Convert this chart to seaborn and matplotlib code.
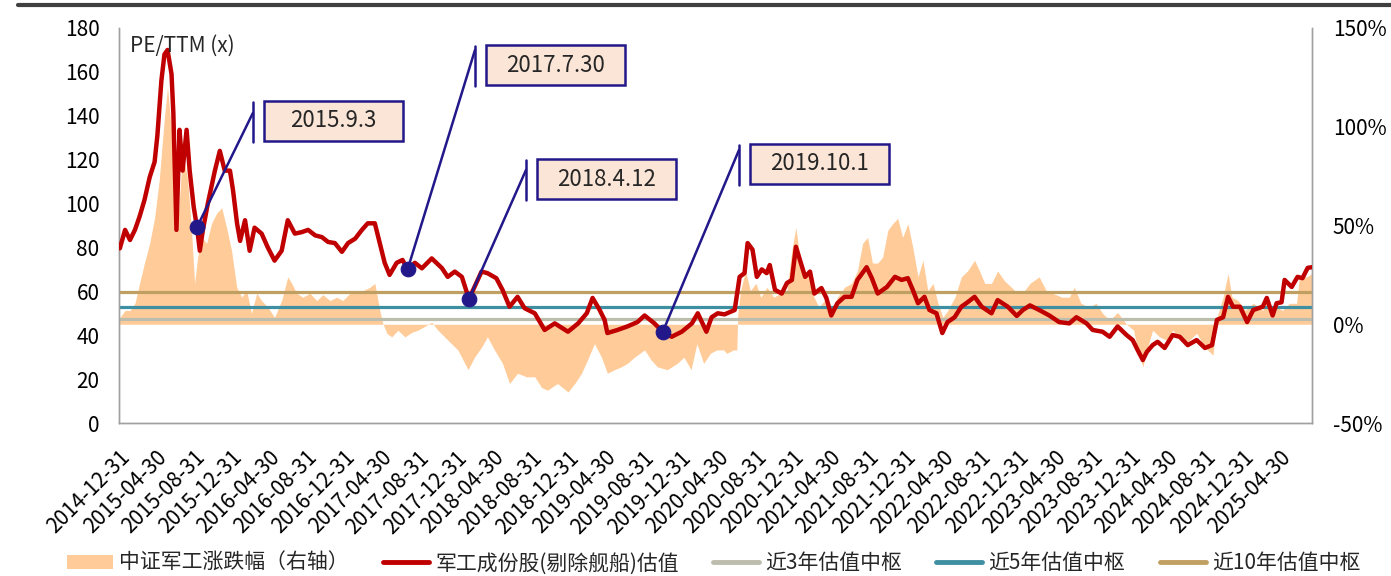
import numpy as np
import pandas as pd
import matplotlib
matplotlib.use("Agg")
import matplotlib.pyplot as plt
import seaborn as sns
from matplotlib.patches import Patch, Rectangle
from matplotlib.lines import Line2D
from matplotlib.ticker import FuncFormatter

# --- data ---
pe_dates = [
    "2015-01-03", "2015-01-20", "2015-02-05", "2015-02-21", "2015-03-08", "2015-03-24", "2015-04-10", "2015-04-26",
    "2015-05-05", "2015-05-18", "2015-05-28", "2015-06-07", "2015-06-20", "2015-06-26", "2015-07-06", "2015-07-16",
    "2015-07-26", "2015-08-08", "2015-08-18", "2015-08-31", "2015-09-11", "2015-09-20", "2015-09-30", "2015-10-16",
    "2015-11-08", "2015-11-24", "2015-12-10", "2015-12-27", "2016-01-06", "2016-01-19", "2016-01-29", "2016-02-14",
    "2016-02-29", "2016-03-16", "2016-04-08", "2016-04-28", "2016-05-20", "2016-06-12", "2016-07-02", "2016-07-25",
    "2016-08-17", "2016-09-06", "2016-09-29", "2016-10-21", "2016-11-10", "2016-12-02", "2016-12-25", "2017-01-14",
    "2017-02-06", "2017-02-28", "2017-03-19", "2017-04-11", "2017-04-27", "2017-05-13", "2017-05-29", "2017-06-21",
    "2017-07-10", "2017-07-27", "2017-08-19", "2017-09-11", "2017-10-13", "2017-11-15", "2017-12-04", "2017-12-27",
    "2018-01-19", "2018-02-11", "2018-03-01", "2018-03-24", "2018-04-12", "2018-05-11", "2018-05-31", "2018-06-23",
    "2018-07-19", "2018-08-11", "2018-09-13", "2018-10-15", "2018-11-17", "2018-12-30", "2019-02-01", "2019-03-01",
    "2019-03-20", "2019-04-12", "2019-04-28", "2019-05-07", "2019-06-09", "2019-07-11", "2019-08-13", "2019-09-05",
    "2019-10-07", "2019-11-03", "2019-12-02", "2020-01-04", "2020-02-06", "2020-02-25", "2020-03-24", "2020-04-10",
    "2020-04-30", "2020-05-22", "2020-06-24", "2020-07-10", "2020-07-26", "2020-08-05", "2020-08-21", "2020-09-04",
    "2020-09-20", "2020-10-06", "2020-10-16", "2020-11-02", "2020-11-24", "2020-12-11", "2020-12-27", "2021-01-09",
    "2021-01-22", "2021-02-08", "2021-02-24", "2021-03-10", "2021-04-02", "2021-04-18", "2021-05-04", "2021-05-24",
    "2021-06-16", "2021-07-09", "2021-07-28", "2021-08-27", "2021-09-13", "2021-10-02", "2021-11-01", "2021-11-27",
    "2021-12-19", "2022-01-08", "2022-01-24", "2022-02-10", "2022-03-03", "2022-03-19", "2022-04-11", "2022-04-30",
    "2022-05-17", "2022-06-09", "2022-07-01", "2022-07-21", "2022-08-13", "2022-09-05", "2022-10-07", "2022-10-27",
    "2022-11-29", "2022-12-28", "2023-01-17", "2023-02-09", "2023-03-11", "2023-04-13", "2023-05-15", "2023-06-17",
    "2023-07-10", "2023-08-12", "2023-09-01", "2023-10-03", "2023-10-26", "2023-11-21", "2023-12-20", "2024-01-09",
    "2024-01-25", "2024-02-11", "2024-02-24", "2024-03-14", "2024-03-30", "2024-04-22", "2024-05-18", "2024-06-10",
    "2024-07-06", "2024-08-04", "2024-08-31", "2024-09-23", "2024-10-09", "2024-10-29", "2024-11-14", "2024-11-30",
    "2024-12-23", "2025-01-15", "2025-02-04", "2025-03-07", "2025-03-20", "2025-04-08", "2025-04-21", "2025-05-07",
    "2025-05-17", "2025-06-09", "2025-06-28", "2025-07-14", "2025-07-31", "2025-08-13",
]
pe_values = [
    79.6, 88, 83.4, 88, 94, 101.6, 112, 119,
    131, 156, 168, 170, 159, 141, 88, 133.6,
    115, 133.6, 115, 98.6, 89, 78.5, 88, 100,
    115, 124, 115, 115, 106, 91, 83, 92.4,
    78.5, 89, 86.3, 80, 74, 78.5, 92.4, 86.3,
    87, 88, 85.5, 84.7, 82.5, 82, 78, 82,
    84, 88, 91, 91, 82, 73, 67.5, 73,
    74.3, 70, 73, 70.5, 75, 70.6, 66.6, 69,
    66.6, 56.5, 62, 69, 68.3, 66, 60.7, 53,
    57.5, 52.3, 50, 42.4, 45.4, 41.6, 45.4, 50,
    57, 51.5, 47, 41, 42.4, 44, 46, 49,
    45.4, 41.6, 39.3, 41.6, 45.4, 50, 41.6, 48.2,
    50, 49.5, 51.5, 66.6, 68.3, 82, 79, 66.6,
    70, 68.3, 72, 60.7, 59, 63.8, 65.2, 80.3,
    74.3, 66.6, 69, 59, 61.5, 57, 49, 54.6,
    57.5, 57.5, 65.2, 71, 66, 59, 62, 66.6,
    65.2, 66, 60.7, 54.6, 57.5, 51.5, 50, 41,
    46, 48.2, 53, 55, 57.5, 53, 50, 56,
    53, 48.8, 51.5, 53.6, 51.5, 49, 46, 45.4,
    48.2, 45.4, 42.4, 41.6, 39.3, 44, 40.1, 37.8,
    33.3, 28.7, 32.4, 35.5, 37, 34.2, 40.1, 39.3,
    35.5, 37.8, 34.2, 35.5, 47, 48.2, 57.5, 53,
    53, 46, 51.5, 53, 57, 49, 54.6, 55,
    65.2, 62, 66.6, 66, 70.7, 71,
]

chg_dates = [
    "2015-01-01", "2015-01-20", "2015-02-05", "2015-02-21", "2015-03-08", "2015-03-24", "2015-04-10", "2015-04-26",
    "2015-05-11", "2015-05-28", "2015-06-07", "2015-06-20", "2015-06-29", "2015-07-09", "2015-07-22", "2015-08-01",
    "2015-08-11", "2015-08-24", "2015-09-03", "2015-09-13", "2015-09-26", "2015-10-12", "2015-10-28", "2015-11-13",
    "2015-11-30", "2015-12-16", "2016-01-01", "2016-01-18", "2016-02-03", "2016-02-19", "2016-03-06", "2016-03-23",
    "2016-04-08", "2016-04-28", "2016-05-20", "2016-06-12", "2016-07-02", "2016-07-15", "2016-07-31", "2016-08-20",
    "2016-09-12", "2016-10-04", "2016-10-24", "2016-11-16", "2016-12-08", "2016-12-28", "2017-01-20", "2017-02-12",
    "2017-03-03", "2017-03-26", "2017-04-11", "2017-04-27", "2017-05-07", "2017-05-20", "2017-06-05", "2017-06-25",
    "2017-07-18", "2017-08-10", "2017-08-29", "2017-09-21", "2017-10-13", "2017-11-02", "2017-12-04", "2018-01-06",
    "2018-02-08", "2018-03-01", "2018-03-24", "2018-04-12", "2018-05-05", "2018-05-31", "2018-06-23", "2018-07-19",
    "2018-08-17", "2018-09-13", "2018-10-05", "2018-10-24", "2018-11-26", "2018-12-30", "2019-01-21", "2019-02-12",
    "2019-03-03", "2019-03-26", "2019-04-18", "2019-05-07", "2019-05-30", "2019-06-21", "2019-07-11", "2019-08-03",
    "2019-09-05", "2019-09-27", "2019-10-17", "2019-11-18", "2019-12-20", "2020-01-11", "2020-02-03", "2020-02-22",
    "2020-03-15", "2020-04-06", "2020-04-26", "2020-05-19", "2020-05-29", "2020-06-20", "2020-07-01", "2020-07-04",
    "2020-07-13", "2020-07-29", "2020-08-14", "2020-09-01", "2020-09-17", "2020-10-07", "2020-10-29", "2020-11-21",
    "2020-12-11", "2020-12-27", "2021-01-09", "2021-01-19", "2021-02-04", "2021-02-21", "2021-03-09", "2021-03-25",
    "2021-04-11", "2021-05-04", "2021-05-24", "2021-06-16", "2021-07-09", "2021-07-28", "2021-08-14", "2021-08-30",
    "2021-09-15", "2021-10-02", "2021-10-18", "2021-11-04", "2021-11-20", "2021-12-06", "2021-12-22", "2022-01-08",
    "2022-01-24", "2022-02-10", "2022-02-26", "2022-03-14", "2022-03-31", "2022-04-16", "2022-05-02", "2022-05-18",
    "2022-06-10", "2022-07-01", "2022-07-21", "2022-08-13", "2022-08-29", "2022-09-15", "2022-10-07", "2022-10-27",
    "2022-11-18", "2022-12-11", "2022-12-30", "2023-01-22", "2023-02-09", "2023-03-11", "2023-04-03", "2023-04-23",
    "2023-05-24", "2023-06-17", "2023-07-03", "2023-07-25", "2023-08-20", "2023-09-12", "2023-10-03", "2023-10-26",
    "2023-11-21", "2023-12-20", "2024-01-12", "2024-01-25", "2024-02-11", "2024-02-24", "2024-03-14", "2024-04-05",
    "2024-04-28", "2024-05-18", "2024-06-10", "2024-07-06", "2024-08-04", "2024-08-31", "2024-09-26", "2024-10-09",
    "2024-10-29", "2024-11-14", "2024-11-27", "2024-12-17", "2025-01-09", "2025-02-04", "2025-03-07", "2025-03-23",
    "2025-04-08", "2025-04-21", "2025-05-10", "2025-06-02", "2025-06-25", "2025-07-04", "2025-07-27", "2025-08-13",
]
chg_values = [
    3, 7, 7, 10.6, 20.6, 31, 41, 54,
    73, 105, 120, 98, 64, 47.6, 78, 81.5,
    74, 47.6, 20.7, 34, 44, 41, 51, 56,
    59, 49, 37.5, 18.7, 13.7, 17, 5.6, 15.7,
    12, 8.6, 3.5, 12, 24, 20.7, 15.7, 13.7,
    15.7, 12, 15, 12, 13.7, 12, 15.7, 15.7,
    17, 18.7, 20.7, 7, 0.5, -4.6, -6.4, -3,
    -6.4, -4, -3, -1, 1, -3, -8, -13,
    -23, -16.7, -11.6, -6.4, -13, -19.8, -30, -24.8,
    -26.6, -26.6, -32, -33.4, -30, -34.3, -30, -24.8,
    -18.2, -9.8, -16.7, -24.8, -23, -21.6, -19.8, -16.7,
    -13, -18.2, -21.6, -23, -19.8, -16.7, -23, -9.8,
    -19.8, -14.7, -13, -13, -14.7, -13, -13, 5,
    17, 27, 17, 20.7, 13.7, 18.7, 13.7, 15.7,
    17, 37.5, 49, 37.5, 27, 24, 13.7, 8.6,
    12, 5.6, 13.7, 18.7, 20.7, 27, 41, 44,
    31, 31, 34, 47.6, 51, 53.6, 44, 51,
    39, 24, 32.4, 17, 20.7, 10.6, 3.5, 7,
    13.7, 24, 27, 32.4, 27, 20.7, 20.7, 27,
    22, 18.7, 15.7, 17, 20.7, 24, 17, 15.7,
    13.7, 13.7, 18.7, 10.6, 8.6, 10.6, 5.6, 2,
    6, 0, -3, -13, -21.6, -13, -3, -6.4,
    -8, -3, -6.4, -8.8, -4.6, -11.6, -15.7, 3.5,
    13.7, 25.6, 13.7, 12, 7, 10.6, 7, 13.7,
    3.5, 8.6, 7, 10.6, 10.6, 24, 24, 25.6,
]

center_labels = ["近3年估值中枢", "近5年估值中枢", "近10年估值中枢"]
center_values = [47.3, 52.7, 59.6]
center_colors = ["#BDBDAE", "#3F8FA2", "#C0A062"]

mark_labels = ["2015.9.3", "2017.7.30", "2018.4.12", "2019.10.1"]
mark_dates = ["2015-09-11", "2017-07-27", "2018-02-11", "2019-11-03"]
mark_values = [89.3, 70.2, 56.5, 41.5]

pe_name = "军工成份股(剔除舰船)估值"
chg_name = "中证军工涨跌幅（右轴）"
tick_dates = pd.date_range("2014-12-31", "2025-04-30", freq="4ME")

# --- style ---
sns.set_theme(style="white")
plt.rcParams["font.family"] = ["Noto Sans CJK SC", "DejaVu Sans"]
plt.rcParams["axes.unicode_minus"] = False

navy = "#22188A"
red = "#C00000"
peach = "#FFCC99"

fig, ax = plt.subplots(figsize=(13.91, 5.76), dpi=100)
fig.subplots_adjust(left=0.0855, right=0.9432, bottom=0.2656, top=0.9514)
ax2 = ax.twinx()
ax.set_zorder(ax2.get_zorder() + 1)
ax.patch.set_visible(False)

# area (right axis)
ax2.fill_between(pd.to_datetime(chg_dates), 0, chg_values, color=peach, linewidth=0)
ax2.set_ylim(-50, 150)
ax2.set_yticks([-50, 0, 50, 100, 150])
ax2.yaxis.set_major_formatter(FuncFormatter(lambda v, p: f"{v:.0f}%"))

# valuation centers + PE line (left axis)
for v, c in zip(center_values, center_colors):
    ax.axhline(v, color=c, lw=2.3, zorder=2)
sns.lineplot(x=pd.to_datetime(pe_dates), y=pe_values, ax=ax, color=red, linewidth=3.2, zorder=3)

# annotation markers
sns.scatterplot(x=pd.to_datetime(mark_dates), y=mark_values, ax=ax, color=navy, s=110,
                edgecolor=navy, zorder=6, legend=False)

ax.set_ylim(0, 180)
ax.set_yticks(range(0, 181, 20))
ax.set_xlim(pd.Timestamp("2014-12-31"), pd.Timestamp("2025-08-14"))
ax.set_xticks(tick_dates)
ax.set_xticklabels([d.strftime("%Y-%m-%d") for d in tick_dates], rotation=45,
                   ha="right", va="top", rotation_mode="anchor")
ax.set_xlabel("")
ax.set_ylabel("")
ax2.set_xlabel("")
ax2.set_ylabel("")

ax.tick_params(axis="y", length=0, pad=14, labelsize=15, colors="black")
ax.tick_params(axis="x", length=0, pad=17, labelsize=15, colors="black")
ax2.tick_params(axis="y", length=0, pad=15, labelsize=15, colors="black")
for a in (ax, ax2):
    for s in a.spines.values():
        s.set_color("#A0A0A0")
        s.set_linewidth(1.0)
    a.spines["top"].set_visible(False)
ax2.grid(False)
ax.grid(False)

ax.text(0.009, 0.955, "PE/TTM (x)", transform=ax.transAxes, fontsize=15, va="center", ha="left")

# annotation boxes with leader lines
box_pos = [(0.1798, 0.7646), (0.3663, 0.906), (0.409, 0.6177), (0.5876, 0.6557)]
bar_x = [0.1123, 0.2984, 0.3412, 0.5197]
line_y = [0.785, 0.944, 0.6405, 0.691]
bw, bh = 0.1165, 0.1013
for lab, d, v, (cx, cy), bx, ly in zip(mark_labels, mark_dates, mark_values, box_pos, bar_x, line_y):
    ax.annotate("", xy=(pd.Timestamp(d), v), xycoords="data", xytext=(bx, ly),
                textcoords="axes fraction",
                arrowprops=dict(arrowstyle="-", color=navy, lw=1.8, shrinkA=0, shrinkB=0), zorder=5)
    ax.plot([bx, bx], [cy - bh / 2 - 0.003, cy + bh / 2 - 0.003], transform=ax.transAxes,
            color=navy, lw=1.8, zorder=5)
    ax.add_patch(Rectangle((cx - bw / 2, cy - bh / 2), bw, bh, transform=ax.transAxes,
                           facecolor="#FBE5D6", edgecolor=navy, lw=1.8, zorder=5))
    ax.text(cx, cy, lab, transform=ax.transAxes, ha="center", va="center", fontsize=16, zorder=6)

# top border of the figure
fig.add_artist(Line2D([18 / 1391, 1.0], [1 - 5 / 576, 1 - 5 / 576], color="#404040", lw=3))

handles = [Patch(facecolor=peach, edgecolor="none"),
           Line2D([], [], color=red, lw=3.5)] + \
          [Line2D([], [], color=c, lw=3.5) for c in center_colors]
labels = [chg_name, pe_name] + center_labels
fig.legend(handles, labels, loc="center", bbox_to_anchor=(0.513, 0.022), ncol=5, frameon=False,
           fontsize=15, handlelength=2.2, handletextpad=0.3, columnspacing=1.65)

fig.savefig("out.png", dpi=100)
